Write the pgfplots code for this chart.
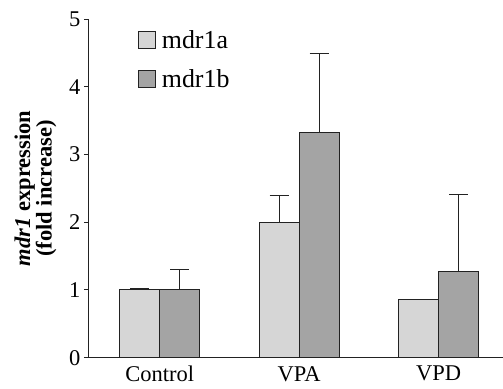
\documentclass[border=0pt]{standalone}
\usepackage{fontspec}
\setmainfont{Liberation Serif}
\usepackage{pgfplots}
\pgfplotsset{compat=1.18}
\definecolor{lightbar}{HTML}{D6D6D6}
\definecolor{darkbar}{HTML}{A4A4A4}
\definecolor{edge}{HTML}{222222}
\begin{document}
\begin{tikzpicture}
\begin{axis}[
 name=ax,
 scale only axis, width=414bp, height=338.7bp,
 xmin=-0.509, xmax=2.459, ymin=0, ymax=5,
 ybar=0pt, bar width=40bp,
 legend image code/.code={\draw[#1] (0bp,-8.5bp) rectangle (17bp,8.5bp);},
 axis lines*=left,
 axis line style={line width=1bp, draw=edge},
 xtick={0,1,2}, xticklabels={Control,VPA,VPD},
 ytick={0,1,2,3,4,5},
 x tick style={draw=none},
 y tick style={line width=1bp, draw=edge},
 tick align=outside, major tick length=5bp,
 ticklabel style={font=\fontsize{22.6}{26}\selectfont},
 /pgf/number format/assume math mode=true,
 legend style={at={(axis description cs:0.118,0.974)}, anchor=north west, draw=none, fill=none,
   font=\fontsize{26}{30}\selectfont, inner sep=0pt, row sep=16bp,
   /tikz/every odd column/.append style={column sep=4bp}},
 legend cell align=left,
 error bars/y dir=plus, error bars/y explicit,
 error bars/error bar style={line width=1bp, draw=edge},
 error bars/error mark options={rotate=90, mark size=9.5bp, line width=1bp, draw=edge},
]
\addplot[fill=lightbar, draw=edge, line width=1bp] coordinates {(0,1.00) +- (0,0.02) (1,2.00) +- (0,0.40) (2,0.855) +- (0,0.005)};
\addplot[fill=darkbar, draw=edge, line width=1bp] coordinates {(0,1.00) +- (0,0.30) (1,3.33) +- (0,1.17) (2,1.27) +- (0,1.14)};
\legend{mdr1a,mdr1b}
\end{axis}
\node[rotate=90, align=center, font=\fontsize{22.6}{20}\selectfont\bfseries] at ([xshift=-53.5bp]ax.west) {\textit{mdr1} expression\\(fold increase)};
\path (ax.south west) ++(-89bp,-31bp) rectangle ++(503bp,389bp);
\end{tikzpicture}
\end{document}
